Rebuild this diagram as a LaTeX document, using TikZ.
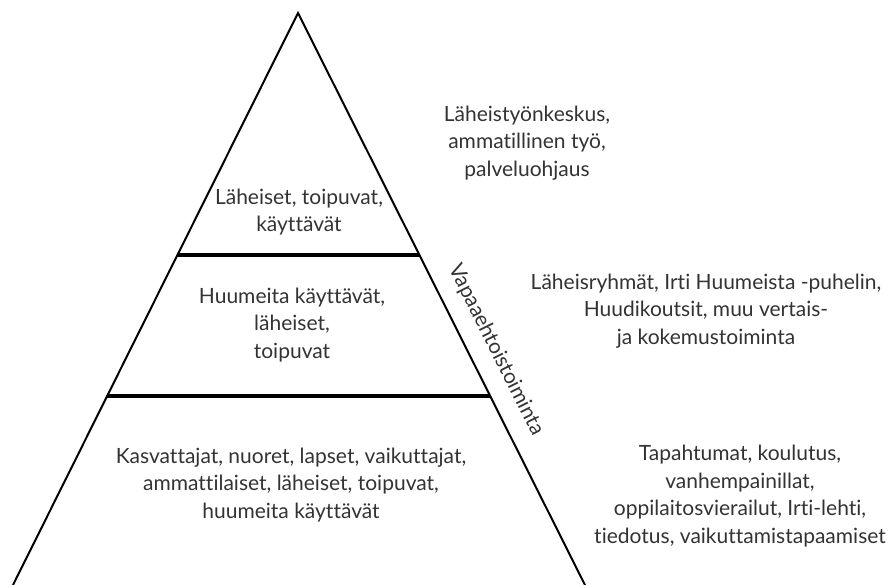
\documentclass[tikz,border=0pt]{standalone}
\usepackage{fontspec}
\setmainfont{Lato}[Ligatures=CommonOff]
\usetikzlibrary{calc}
\definecolor{txtgray}{HTML}{333333}

\begin{document}
\begin{tikzpicture}[x=1pt,y=-1pt,
  lbl/.style={align=center,text=txtgray,font=\fontsize{21}{27.5}\selectfont},
  edge/.style={line width=2pt},
  band/.style={line width=4.5pt}]
\useasboundingbox (0,0) rectangle (891,585);
% pyramid
\coordinate (top) at (298,13);
\coordinate (bl) at (13,585);
\coordinate (br) at (585,585);
\draw[edge] (bl) -- (top) -- (br);
\draw[band] ($(top)!0.4231!(bl)$) -- ($(top)!0.4231!(br)$);
\draw[band] ($(top)!0.6696!(bl)$) -- ($(top)!0.6696!(br)$);
% levels
\node[lbl] (tiptext) at (299,212) {Läheiset, toipuvat,\\käyttävät};
\node[lbl] (midtext) at (292,325) {Huumeita käyttävät,\\läheiset,\\toipuvat};
\node[lbl] (basetext) at (291,485) {Kasvattajat, nuoret, lapset, vaikuttajat,\\ammattilaiset, läheiset, toipuvat,\\huumeita käyttävät};
% side texts
\node[lbl] (worktext) at (527,143) {Läheistyönkeskus,\\ammatillinen työ,\\palveluohjaus};
\node[lbl] (peertext) at (706,311) {Läheisryhmät, Irti Huumeista -puhelin,\\Huudikoutsit, muu vertais-\\ja kokemustoiminta};
\node[lbl] (eventtext) at (740,496) {Tapahtumat, koulutus,\\vanhempainillat,\\oppilaitosvierailut, Irti-lehti,\\tiedotus, vaikuttamistapaamiset};
\node[lbl,rotate=-63.35] (volunteer) at (496,350) {Vapaaehtoistoiminta};
\end{tikzpicture}
\end{document}
